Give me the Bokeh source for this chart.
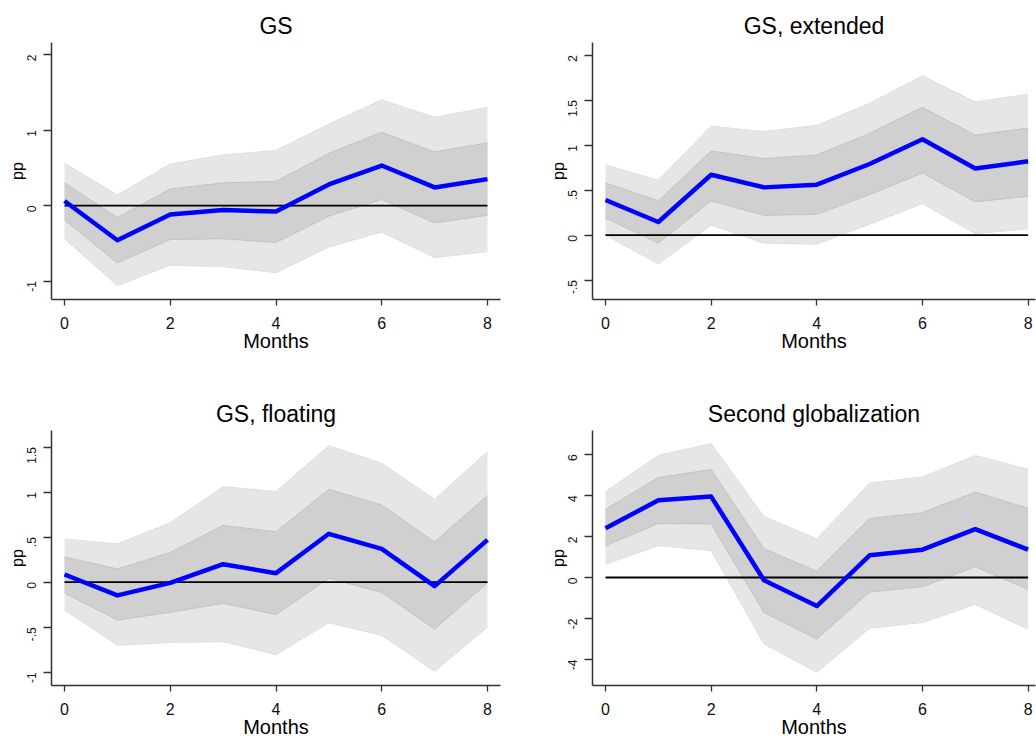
import math
from bokeh.plotting import figure
from bokeh.layouts import gridplot
from bokeh.models import FixedTicker, Range1d
from bokeh.embed import file_html
from bokeh.resources import INLINE

# ---------------- data ----------------
months = [0, 1, 2, 3, 4, 5, 6, 7, 8]
x_ticks = [0, 2, 4, 6, 8]

# GS
gs_irf  = [0.06, -0.46, -0.12, -0.06, -0.08, 0.28, 0.53, 0.24, 0.35]
gs_hi68 = [0.30, -0.16, 0.22, 0.30, 0.32, 0.69, 0.97, 0.71, 0.83]
gs_lo68 = [-0.19, -0.76, -0.45, -0.44, -0.49, -0.14, 0.08, -0.23, -0.13]
gs_hi90 = [0.56, 0.14, 0.55, 0.67, 0.73, 1.08, 1.40, 1.17, 1.30]
gs_lo90 = [-0.44, -1.06, -0.79, -0.81, -0.89, -0.55, -0.35, -0.69, -0.61]
gs_yticks = [-1, 0, 1, 2]
gs_ylabels = ["-1", "0", "1", "2"]

# GS, extended
ext_irf  = [0.39, 0.145, 0.67, 0.53, 0.56, 0.79, 1.065, 0.74, 0.82]
ext_hi68 = [0.58, 0.38, 0.935, 0.85, 0.89, 1.13, 1.42, 1.11, 1.19]
ext_lo68 = [0.19, -0.09, 0.38, 0.22, 0.23, 0.45, 0.69, 0.37, 0.43]
ext_hi90 = [0.78, 0.61, 1.21, 1.15, 1.22, 1.465, 1.77, 1.48, 1.565]
ext_lo90 = [0.0, -0.32, 0.11, -0.09, -0.10, 0.12, 0.35, 0.015, 0.07]
ext_yticks = [-0.5, 0, 0.5, 1, 1.5, 2]
ext_ylabels = ["-.5", "0", ".5", "1", "1.5", "2"]

# GS, floating
flt_irf  = [0.085, -0.147, -0.007, 0.20, 0.10, 0.537, 0.37, -0.044, 0.47]
flt_hi68 = [0.28, 0.147, 0.33, 0.63, 0.56, 1.03, 0.857, 0.445, 0.963]
flt_lo68 = [-0.118, -0.42, -0.335, -0.235, -0.36, 0.044, -0.114, -0.52, -0.007]
flt_hi90 = [0.478, 0.426, 0.66, 1.06, 1.007, 1.515, 1.32, 0.92, 1.45]
flt_lo90 = [-0.31, -0.70, -0.67, -0.66, -0.805, -0.45, -0.59, -0.99, -0.50]
flt_yticks = [-1, -0.5, 0, 0.5, 1, 1.5]
flt_ylabels = ["-1", "-.5", "0", ".5", "1", "1.5"]

# Second globalization
sg_irf  = [2.40, 3.76, 3.94, -0.13, -1.39, 1.08, 1.355, 2.355, 1.355]
sg_hi68 = [3.32, 4.87, 5.26, 1.40, 0.31, 2.87, 3.16, 4.16, 3.37]
sg_lo68 = [1.55, 2.63, 2.61, -1.71, -3.00, -0.71, -0.45, 0.52, -0.58]
sg_hi90 = [4.18, 5.95, 6.52, 2.97, 1.89, 4.60, 4.90, 5.94, 5.27]
sg_lo90 = [0.645, 1.55, 1.31, -3.24, -4.61, -2.47, -2.19, -1.31, -2.52]
sg_yticks = [-4, -2, 0, 2, 4, 6]
sg_ylabels = ["-4", "-2", "0", "2", "4", "6"]

zero = [0.0] * len(months)

FONT = "Liberation Sans"


def panel(title, irf, lo68, hi68, lo90, hi90, yr, xr, yticks, ylabels,
          b_left, b_right, b_top, b_bottom):
    p = figure(width=518, height=370, output_backend="svg", toolbar_location=None,
               x_range=Range1d(*xr), y_range=Range1d(*yr), title=title)
    p.min_border_left = b_left
    p.min_border_right = b_right
    p.min_border_top = b_top
    p.min_border_bottom = b_bottom
    p.outline_line_color = None
    p.xgrid.visible = False
    p.ygrid.visible = False
    p.background_fill_color = "white"
    p.border_fill_color = "white"

    p.title.text_font = FONT
    p.title.text_font_size = "23px"
    p.title.text_font_style = "normal"
    p.title.text_color = "black"
    p.title.align = "center"
    p.title.standoff = 8

    # bands
    p.varea(x=months, y1=lo90, y2=hi90, fill_color="#e6e6e6")
    p.line(months, hi90, line_color="#dedede", line_width=1)
    p.line(months, lo90, line_color="#dedede", line_width=1)
    p.varea(x=months, y1=lo68, y2=hi68, fill_color="#d0d0d0")
    p.line(months, hi68, line_color="#c2c2c2", line_width=1)
    p.line(months, lo68, line_color="#c2c2c2", line_width=1)
    # zero line
    p.line(months, zero, line_color="black", line_width=1.8)
    # irf
    p.line(months, irf, line_color="#0000ff", line_width=4.5, line_join="round")

    # x axis
    xa = p.xaxis[0]
    xa.ticker = FixedTicker(ticks=x_ticks)
    xa.axis_label = "Months"
    xa.axis_label_text_font = FONT
    xa.axis_label_text_font_size = "20px"
    xa.axis_label_text_font_style = "normal"
    xa.axis_label_text_color = "black"
    xa.axis_label_standoff = -2
    xa.major_label_text_font = FONT
    xa.major_label_text_font_size = "16px"
    xa.major_label_text_color = "#111111"
    xa.major_label_standoff = 11
    xa.major_tick_out = 6
    xa.major_tick_in = 0
    xa.minor_tick_out = 0
    xa.minor_tick_in = 0
    xa.axis_line_color = "#333333"
    xa.axis_line_width = 1.5
    xa.major_tick_line_color = "#333333"
    xa.major_tick_line_width = 1.3

    # y axis
    ya = p.yaxis[0]
    ya.ticker = FixedTicker(ticks=yticks)
    ya.major_label_overrides = {float(t): l for t, l in zip(yticks, ylabels)}
    ya.major_label_orientation = math.pi / 2
    ya.axis_label = "pp"
    ya.axis_label_text_font = FONT
    ya.axis_label_text_font_size = "16px"
    ya.axis_label_text_font_style = "normal"
    ya.axis_label_text_color = "black"
    ya.axis_label_standoff = -6
    ya.major_label_text_font = FONT
    ya.major_label_text_font_size = "12px"
    ya.major_label_text_color = "#111111"
    ya.major_label_standoff = 12
    ya.major_tick_out = 8
    ya.major_tick_in = 0
    ya.minor_tick_out = 0
    ya.minor_tick_in = 0
    ya.axis_line_color = "#333333"
    ya.axis_line_width = 1.5
    ya.major_tick_line_color = "#333333"
    ya.major_tick_line_width = 1.3
    return p


p1 = panel("GS", gs_irf, gs_lo68, gs_hi68, gs_lo90, gs_hi90,
           (-1.245, 2.16), (-0.246, 8.246), gs_yticks, gs_ylabels, 51, 18, 42, 71)
p2 = panel("GS, extended", ext_irf, ext_lo68, ext_hi68, ext_lo90, ext_hi90,
           (-0.716, 2.14), (-0.246, 8.14), ext_yticks, ext_ylabels, 74, 1, 42, 71)
p3 = panel("GS, floating", flt_irf, flt_lo68, flt_hi68, flt_lo90, flt_hi90,
           (-1.147, 1.684), (-0.246, 8.246), flt_yticks, flt_ylabels, 51, 18, 60, 53)
p4 = panel("Second globalization", sg_irf, sg_lo68, sg_hi68, sg_lo90, sg_hi90,
           (-5.26, 7.16), (-0.246, 8.14), sg_yticks, sg_ylabels, 74, 1, 60, 53)

grid = gridplot([[p1, p2], [p3, p4]], toolbar_location=None)

open("out.html", "w").write(file_html(grid, INLINE))
